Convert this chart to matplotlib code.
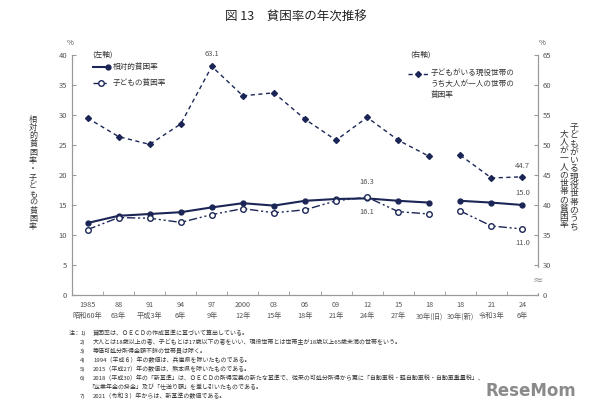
import matplotlib
matplotlib.use('Agg')
import matplotlib.pyplot as plt
import numpy as np

plt.rcParams['font.family'] = ['Noto Sans CJK JP', 'DejaVu Sans']

# データ
years = ['1985', '88', '91', '94', '97', '2000', '03', '06', '09', '12',
         '15', '18', '18', '21', '24']
eras = ['昭和60年', '63年', '平成3年', '6年', '9年', '12年', '15年', '18年',
        '21年', '24年', '27年', '30年(旧)', '30年(新)', '令和3年', '6年']
soutai = [12.0, 13.2, 13.5, 13.8, 14.6, 15.3, 14.9, 15.7, 16.0, 16.1,
          15.7, 15.4, 15.7, 15.4, 15.0]
kodomo = [10.9, 12.9, 12.8, 12.1, 13.4, 14.4, 13.7, 14.2, 15.7, 16.3,
          13.9, 13.5, 14.0, 11.5, 11.0]
hitori = [54.5, 51.4, 50.1, 53.5, 63.1, 58.2, 58.7, 54.3, 50.8, 54.6,
          50.8, 48.1, 48.3, 44.5, 44.7]

notes = [
    '貧困率は、ＯＥＣＤの作成基準に基づいて算出している。',
    '大人とは18歳以上の者、子どもとは17歳以下の者をいい、現役世帯とは世帯主が18歳以上65歳未満の世帯をいう。',
    '等価可処分所得金額不詳の世帯員は除く。',
    '1994（平成６）年の数値は、兵庫県を除いたものである。',
    '2015（平成27）年の数値は、熊本県を除いたものである。',
    '2018（平成30）年の「新基準」は、ＯＥＣＤの所得定義の新たな基準で、従来の可処分所得から更に「自動車税・軽自動車税・自動車重量税」、\n'
    '「企業年金の掛金」及び「仕送り額」を差し引いたものである。',
    '2021（令和３）年からは、新基準の数値である。',
]

navy = '#1b2656'
gray = '#555555'
x = np.arange(len(years))
seg = [slice(0, 12), slice(12, 15)]

fig = plt.figure(figsize=(6.1, 4.0), dpi=100)
ax = fig.add_axes([0.118, 0.2625, 0.764, 0.6])
ax2 = ax.twinx()

for s in seg:
    ax.plot(x[s], np.array(soutai)[s], color=navy, lw=1.5, marker='o', ms=3.5)
    ax.plot(x[s], np.array(kodomo)[s], color=navy, lw=1.0, marker='o', ms=4,
            mfc='white', mew=1.0, dashes=(6, 2, 1.5, 2, 1.5, 2))
    ax2.plot(x[s], np.array(hitori)[s], color=navy, lw=1.0, marker='D', ms=3,
             dashes=(3, 2.5))

ax.set_xlim(-0.5, len(x) - 0.5)
ax.set_ylim(0, 40)
ax.set_yticks(np.arange(0, 41, 5))
ax2.set_ylim(25, 65)
ax2.set_yticks(np.arange(25, 66, 5))
ax2.set_yticklabels(['0'] + [str(v) for v in range(30, 66, 5)])

ax.set_xticks(x)
ax.set_xticklabels([f'{a}\n{b}' for a, b in zip(years, eras)], fontsize=5.2,
                   color=gray, linespacing=1.6)
ax.set_xticks(np.arange(-0.5, len(x), 1), minor=True)
ax.tick_params(axis='x', which='major', length=0, pad=4)
ax.tick_params(axis='x', which='minor', length=3, direction='in', color='#999999')
ax.tick_params(axis='y', labelsize=5.5, labelcolor=gray, direction='in',
               length=3, color='#999999')
ax2.tick_params(axis='y', labelsize=5.5, labelcolor=gray, direction='in',
                length=3, color='#999999')

for a in (ax, ax2):
    a.spines['top'].set_visible(False)
    for k in ('left', 'right', 'bottom'):
        a.spines[k].set_color('#999999')
        a.spines[k].set_linewidth(0.8)

# 省略記号
ax2.text(len(x) - 0.5, 27.5, '≈', ha='center', va='center', fontsize=9,
         color='#999999', backgroundcolor='white', family='DejaVu Sans')

# 数値ラベル
ax2.annotate('63.1', (4, hitori[4]), xytext=(0, 6), textcoords='offset points',
             ha='center', va='bottom', fontsize=5.5, color=gray)
ax.annotate('16.3', (9, kodomo[9]), xytext=(0, 8), textcoords='offset points',
            ha='center', va='bottom', fontsize=5.5, color=gray)
ax.annotate('16.1', (9, soutai[9]), xytext=(0, -7), textcoords='offset points',
            ha='center', va='top', fontsize=5.5, color=gray)
ax2.annotate('44.7', (14, hitori[14]), xytext=(0, 5), textcoords='offset points',
             ha='center', va='bottom', fontsize=5.5, color=gray)
ax.annotate('15.0', (14, soutai[14]), xytext=(0, 6), textcoords='offset points',
            ha='center', va='bottom', fontsize=5.5, color=gray)
ax.annotate('11.0', (14, kodomo[14]), xytext=(0, -7), textcoords='offset points',
            ha='center', va='top', fontsize=5.5, color=gray)

# 凡例
fig.text(92 / 610, 1 - 55 / 400, '(左軸)', fontsize=5.5, color='#333333', va='center')
fig.text(410 / 610, 1 - 55 / 400, '(右軸)', fontsize=5.5, color='#333333', va='center')
fig.lines.append(plt.Line2D([93 / 610, 108 / 610], [1 - 67 / 400] * 2,
                            color=navy, lw=1.5, marker='o', ms=3.5,
                            markevery=[1], transform=fig.transFigure))
fig.lines.append(plt.Line2D([93 / 610, 100.5 / 610, 108 / 610], [1 - 83 / 400] * 3,
                            color=navy, lw=1.0, marker='o', ms=4, mfc='white',
                            markevery=[1], dashes=(6, 2, 1.5, 2, 1.5, 2),
                            transform=fig.transFigure))
fig.lines.append(plt.Line2D([408 / 610, 418 / 610, 428 / 610], [1 - 74 / 400] * 3,
                            color=navy, lw=1.0, marker='D', ms=3,
                            markevery=[1], dashes=(3, 2.5),
                            transform=fig.transFigure))
fig.text(113 / 610, 1 - 67 / 400, '相対的貧困率', fontsize=5.5, color='#333333', va='center')
fig.text(113 / 610, 1 - 83 / 400, '子どもの貧困率', fontsize=5.5, color='#333333', va='center')
fig.text(431 / 610, 1 - 69 / 400, '子どもがいる現役世帯の\nうち大人が一人の世帯の\n貧困率',
         fontsize=5.5, color='#333333', va='top', linespacing=1.5)

# 単位
fig.text(70 / 610, 1 - 45 / 400, '%', fontsize=5.5, color=gray, ha='center')
fig.text(542 / 610, 1 - 45 / 400, '%', fontsize=5.5, color=gray, ha='center')

# 縦書きの軸ラベル
lab_l = '相対的貧困率・子どもの貧困率'
fig.text(33 / 610, 1 - 173 / 400, '\n'.join(lab_l), fontsize=5.8, color='#333333',
         ha='center', va='center', linespacing=0.9)
lab_r1 = '子どもがいる現役世帯のうち'
lab_r2 = '大人が一人の世帯の貧困率'
fig.text(574 / 610, 1 - 123 / 400, '\n'.join(lab_r1), fontsize=6.3, color='#333333',
         ha='center', va='top', linespacing=0.9)
fig.text(564 / 610, 1 - 129 / 400, '\n'.join(lab_r2), fontsize=6.3, color='#333333',
         ha='center', va='top', linespacing=0.9)

# タイトル
fig.text(0.485, 1 - 17 / 400, '図 13　貧困率の年次推移', fontsize=9, color='#222222',
         ha='center', va='center')

# 注
y0 = 1 - 333 / 400
fig.text(69 / 610, y0, '注：', fontsize=4.3, color='#333333', va='center')
yy = y0
for i, n in enumerate(notes):
    fig.text(80 / 610, yy, f'{i + 1})', fontsize=4.3, color='#333333', va='center')
    parts = n.split('\n')
    for j, p in enumerate(parts):
        xo = 93 / 610 if j == 0 else 88 / 610
        fig.text(xo, yy, p, fontsize=4.3, color='#333333', va='center')
        yy -= 9 / 400

fig.text(0.945, 1 - 391 / 400, 'ReseMom', fontsize=12, color='#8a8a8a',
         fontweight='bold', ha='right', va='center', family='DejaVu Sans')

fig.savefig('out.png', dpi=100)
